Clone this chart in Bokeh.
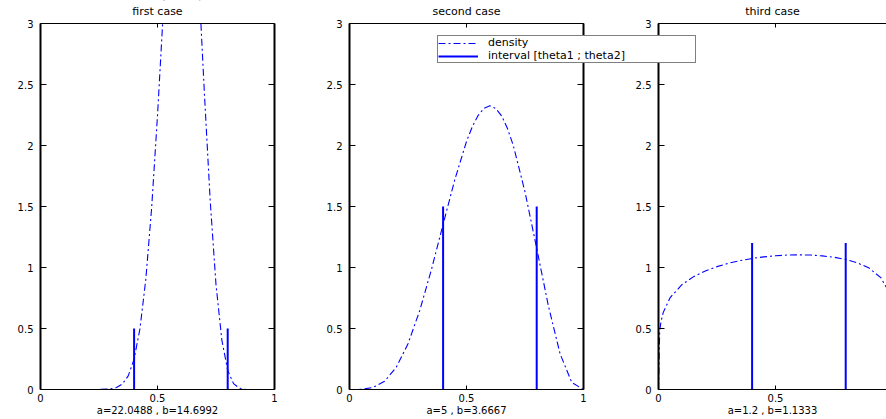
from bokeh.plotting import figure
from bokeh.models import (LinearAxis, FixedTicker, Range1d, Legend, LegendItem,
                          ColumnDataSource, BoxAnnotation)
from bokeh.embed import file_html
from bokeh.resources import INLINE

titles = ["first case", "second case", "third case"]
params = ["a=22.0488 , b=14.6992", "a=5 , b=3.6667", "a=1.2 , b=1.1333"]

x1 = [0, 0.1, 0.2, 0.25, 0.3, 0.325, 0.35, 0.375, 0.4, 0.425, 0.45, 0.475, 0.5, 0.525,
      0.55, 0.575, 0.6, 0.625, 0.65, 0.675, 0.7, 0.725, 0.75, 0.775, 0.8, 0.825, 0.85,
      0.875, 0.9, 1.0]
y1 = [0, 0, 0, 0.0003, 0.005, 0.016, 0.045, 0.112, 0.249, 0.498, 0.902, 1.489, 2.246, 3.106,
      3.943, 4.593, 4.903, 4.782, 4.243, 3.402, 2.444, 1.553, 0.859, 0.405, 0.157, 0.048, 0.011,
      0.002, 0.0001, 0]

x2 = [0, 0.05, 0.1, 0.15, 0.2, 0.25, 0.3, 0.35, 0.4, 0.45, 0.5, 0.525, 0.55, 0.575, 0.6,
      0.625, 0.65, 0.675, 0.7, 0.75, 0.8, 0.85, 0.9, 0.95, 1.0]
y2 = [0, 0.001, 0.016, 0.068, 0.182, 0.375, 0.646, 0.982, 1.354, 1.720, 2.033, 2.155, 2.247,
      2.305, 2.325, 2.304, 2.243, 2.140, 2.000, 1.620, 1.157, 0.685, 0.292, 0.057, 0]

x3 = [0, 0.005, 0.01, 0.02, 0.05, 0.1, 0.15, 0.2, 0.25, 0.3, 0.35, 0.4, 0.45, 0.5, 0.55,
      0.6, 0.65, 0.7, 0.75, 0.8, 0.85, 0.9, 0.95, 0.98, 1.0]
y3 = [0, 0.478, 0.549, 0.630, 0.754, 0.859, 0.925, 0.972, 1.007, 1.035, 1.057, 1.074, 1.087,
      1.096, 1.102, 1.104, 1.102, 1.095, 1.084, 1.066, 1.038, 0.995, 0.917, 0.817, 0]

theta = [0.4, 0.8]
heights = [0.5, 1.5, 1.2]

x_ticks = [0, 0.5, 1]
y_ticks = [0, 0.5, 1, 1.5, 2, 2.5, 3]
y_max = 3

FONT = "DejaVu Sans"
BLUE = "#0000ff"

# layout (pixels): the frame fills the whole canvas, panels are placed by ranges
W, H = 886, 419
PANEL_W = 234                 # pixel width of one panel's [0, 1]
PANEL_LEFT = [40, 349, 658]   # left edge of each panel
PANEL_TOP, PANEL_BOTTOM = 23, 389
Y_PX = (PANEL_BOTTOM - PANEL_TOP) / y_max

names = ["default", "p2", "p3"]
ranges = []
for k in range(3):
    start = -PANEL_LEFT[k] / PANEL_W
    ranges.append(Range1d(start, start + W / PANEL_W))
y_range = Range1d(-(H - PANEL_BOTTOM) / Y_PX, y_max + PANEL_TOP / Y_PX)

p = figure(width=W, height=H, x_range=ranges[0], y_range=y_range,
           output_backend="svg", toolbar_location=None,
           x_axis_location=None, y_axis_location=None,
           min_border_left=0, min_border_right=0, min_border_top=0, min_border_bottom=0)
p.extra_x_ranges = {"p2": ranges[1], "p3": ranges[2]}
p.outline_line_color = None
p.xgrid.visible = False
p.ygrid.visible = False
p.background_fill_color = "white"
p.border_fill_color = "white"


def style_axis(ax, ticks, lw, tick_in, labels):
    ax.ticker = FixedTicker(ticks=ticks)
    ax.axis_line_color = "black"
    ax.axis_line_width = lw
    ax.major_tick_in = tick_in
    ax.major_tick_out = 0
    ax.major_tick_line_color = "black"
    ax.major_tick_line_width = 1
    ax.minor_tick_line_color = None
    if labels:
        ax.major_label_text_font = FONT
        ax.major_label_text_font_size = "10px"
        ax.major_label_text_color = "black"
    else:
        ax.major_label_text_color = None
        ax.major_label_text_font_size = "0px"
        ax.major_label_standoff = 0


series = [(x1, y1), (x2, y2), (x3, y3)]
renderers = []
for k, rn in enumerate(names):
    rng = ranges[k]
    vis_ticks = [t for t in x_ticks if t <= rng.end]

    xs, ys = series[k]
    r_line = p.line(xs, ys, x_range_name=rn, line_color=BLUE, line_width=1.1,
                    line_dash="7 3 2 3")
    src = ColumnDataSource(dict(x=theta, y0=[0, 0], y1=[heights[k], heights[k]]))
    r_seg = p.segment(x0="x", y0="y0", x1="x", y1="y1", source=src, x_range_name=rn,
                      line_color=BLUE, line_width=2)
    renderers.append((r_line, r_seg))

    if k == 0:
        # the first density runs above the axes box: hide what lies above y_max
        p.add_layout(BoxAnnotation(left=0, right=1, bottom=y_max, x_range_name=rn,
                                   fill_color="white", fill_alpha=1, line_color=None))

    bottom = LinearAxis(x_range_name=rn, fixed_location=0, bounds=(0, 1), axis_label=params[k])
    style_axis(bottom, vis_ticks, 1, 4, True)
    bottom.major_label_standoff = 4
    bottom.axis_label_standoff = 0
    bottom.axis_label_text_font = FONT
    bottom.axis_label_text_font_size = "10px"
    bottom.axis_label_text_font_style = "normal"
    bottom.axis_label_text_color = "black"
    p.add_layout(bottom, "below")

    top = LinearAxis(x_range_name=rn, fixed_location=y_max, bounds=(0, 1), axis_label=titles[k])
    style_axis(top, vis_ticks, 1, 4, False)
    top.axis_label_standoff = 6
    top.axis_label_text_font = FONT
    top.axis_label_text_font_size = "11px"
    top.axis_label_text_font_style = "normal"
    top.axis_label_text_color = "black"
    top.level = "overlay"
    p.add_layout(top, "above")

    left = LinearAxis(x_range_name=rn, fixed_location=0, bounds=(0, y_max))
    style_axis(left, y_ticks, 2, 6, True)
    left.major_label_standoff = 7
    p.add_layout(left, "left")

    right = LinearAxis(x_range_name=rn, fixed_location=1, bounds=(0, y_max))
    style_axis(right, y_ticks, 2, 6, False)
    p.add_layout(right, "right")

leg = Legend(items=[LegendItem(label="density", renderers=[renderers[1][0]]),
                    LegendItem(label="interval [theta1 ; theta2]", renderers=[renderers[1][1]])],
             location=(437, H - 63))
leg.label_text_font = FONT
leg.label_text_font_size = "11px"
leg.label_text_color = "black"
leg.label_height = 10
leg.glyph_height = 10
leg.glyph_width = 40
leg.label_width = 207
leg.label_standoff = 10
leg.padding = 0
leg.spacing = 0
leg.margin = 0
leg.border_line_color = "black"
leg.border_line_width = 1.4
leg.background_fill_color = "white"
leg.background_fill_alpha = 1
p.add_layout(leg)

open("out.html", "w").write(file_html(p, INLINE))
